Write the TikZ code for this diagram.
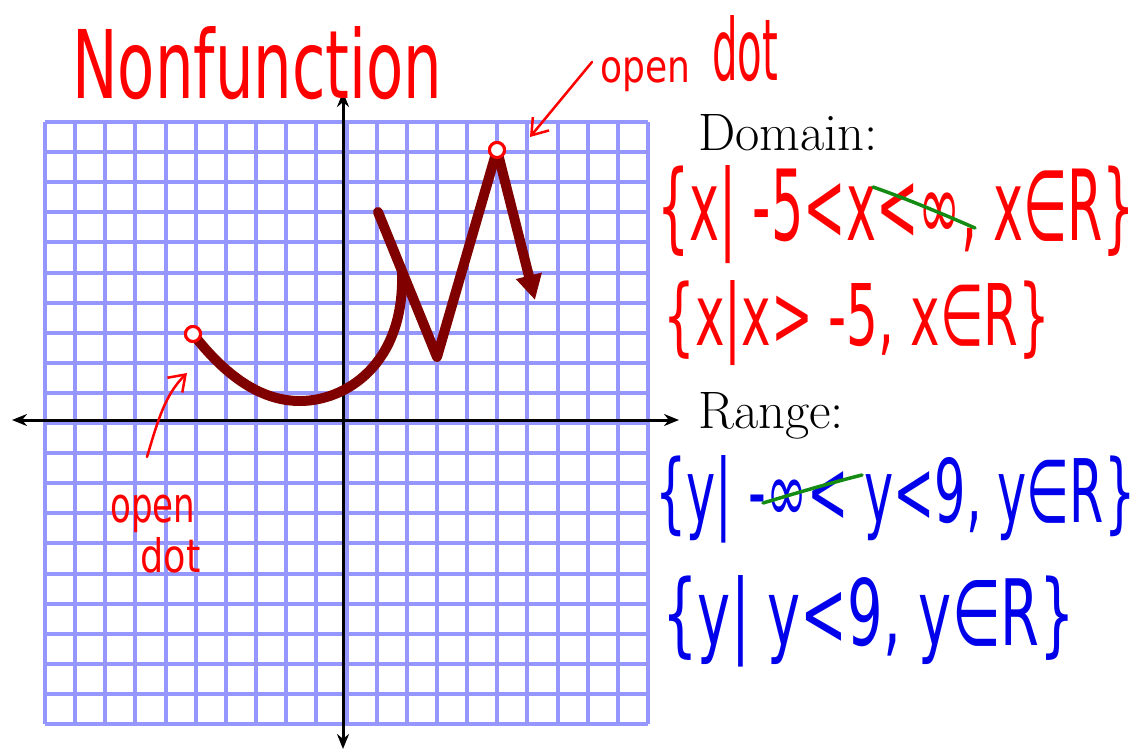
\documentclass[tikz,border=0pt]{standalone}
\usepackage{fontspec}
\usepackage{graphicx}
\newfontfamily\hand{DejaVu Sans}
\usetikzlibrary{arrows.meta}
\definecolor{gridblue}{RGB}{150,150,255}
\definecolor{curvered}{RGB}{128,0,0}
\definecolor{inkred}{RGB}{255,0,0}
\definecolor{inkblue}{RGB}{0,0,235}
\definecolor{inkgreen}{RGB}{20,140,20}
\tikzset{
  gridline/.style={draw=gridblue,line width=0.08cm},
  axisline/.style={draw=black,line width=0.06cm,{Stealth[length=0.3cm,width=0.24cm]}-{Stealth[length=0.3cm,width=0.24cm]}},
  graphline/.style={draw=curvered,line width=0.2cm,line cap=round,line join=round},
  opendot/.style={circle,draw=inkred,line width=0.06cm,fill=white,minimum size=0.3cm,inner sep=0pt},
  note/.style={draw=inkred,line width=0.05cm,line cap=round,-{Straight Barb[length=0.3cm,width=0.42cm]}},
  handtext/.style={inner sep=0pt,font=\hand},
  strike/.style={draw=inkgreen,line width=0.07cm,line cap=round},
  label/.style={inner sep=0pt,font=\fontsize{30}{33}\selectfont}
}
\begin{document}
\begin{tikzpicture}[x=0.02cm,y=-0.02cm]
\useasboundingbox (0,0) rectangle (1143,751);
% grid
\foreach \i in {0,...,20} {
  \draw[gridline] ({45+30.15*\i},122) -- ({45+30.15*\i},724);
  \draw[gridline] (45,{122+30.1*\i}) -- (648,{122+30.1*\i});
}
% axes
\coordinate (xl) at (12,420); \coordinate (xr) at (679,420);
\coordinate (yt) at (343,92); \coordinate (yb) at (343,749);
\draw[axisline] (xl) -- (xr);
\draw[axisline] (yt) -- (yb);
% graph
\node[opendot] (dl) at (193,334) {};
\node[opendot] (dt) at (497,150) {};
\coordinate (cmin) at (300,401);
\coordinate (cend) at (402,272);
\coordinate (zs) at (378,212);
\coordinate (zb) at (437,357);
\coordinate (ztip) at (535,300);
\draw[graphline] (dl.center) .. controls (225,375) and (260,401) .. (cmin)
   .. controls (345,401) and (405,365) .. (cend);
\draw[graphline] (zs) -- (zb) -- (dt.center);
\draw[graphline,line cap=butt,-{Triangle[length=0.5cm,width=0.5cm]}] (dt.center) -- (ztip);
\node[opendot] at (dl) {};
\node[opendot] at (dt) {};
% title
\node[handtext,anchor=base west,text=inkred] (title) at (72,98) {\resizebox{7.4cm}{1.44cm}{Nonfunction}};
% open dot labels
\node[handtext,anchor=base west,text=inkred] (o1) at (600,82) {\resizebox{1.8cm}{0.5cm}{open}};
\node[handtext,anchor=base west,text=inkred] (d1) at (712,80) {\resizebox{1.32cm}{1.3cm}{dot}};
\coordinate (a1s) at (592,62);
\draw[note] (a1s) -- (530,137);
\node[handtext,anchor=base west,text=inkred] (o2) at (110,522) {\resizebox{1.7cm}{0.55cm}{open}};
\node[handtext,anchor=base west,text=inkred] (d2) at (140,572) {\resizebox{1.2cm}{0.7cm}{dot}};
\coordinate (a2s) at (147,457);
\draw[note] (a2s) .. controls (158,420) and (165,395) .. (187,373);
% Domain / Range
\node[label,anchor=base west] (dom) at (698,150) {Domain:};
\node[label,anchor=base west] (ran) at (698,428) {Range:};
\node[handtext,anchor=base west,text=inkred] (dm1) at (657,240) {\resizebox{9.56cm}{1.5cm}{\{x| -5<x<∞, x∈R\}}};
\node[handtext,anchor=base west,text=inkred] (dm2) at (663,345) {\resizebox{7.74cm}{1.3cm}{\{x|x> -5, x∈R\}}};
\node[handtext,anchor=base west,text=inkblue] (rg1) at (655,522) {\resizebox{9.6cm}{1.34cm}{\{y| -∞< y<9, y∈R\}}};
\node[handtext,anchor=base west,text=inkblue] (rg2) at (662,645) {\resizebox{8.26cm}{1.4cm}{\{y| y<9, y∈R\}}};
% strike-throughs
\draw[strike] (873,187) .. controls (910,200) and (945,215) .. (975,228);
\draw[strike] (763,503) .. controls (800,492) and (830,483) .. (862,475);
\end{tikzpicture}
\end{document}
